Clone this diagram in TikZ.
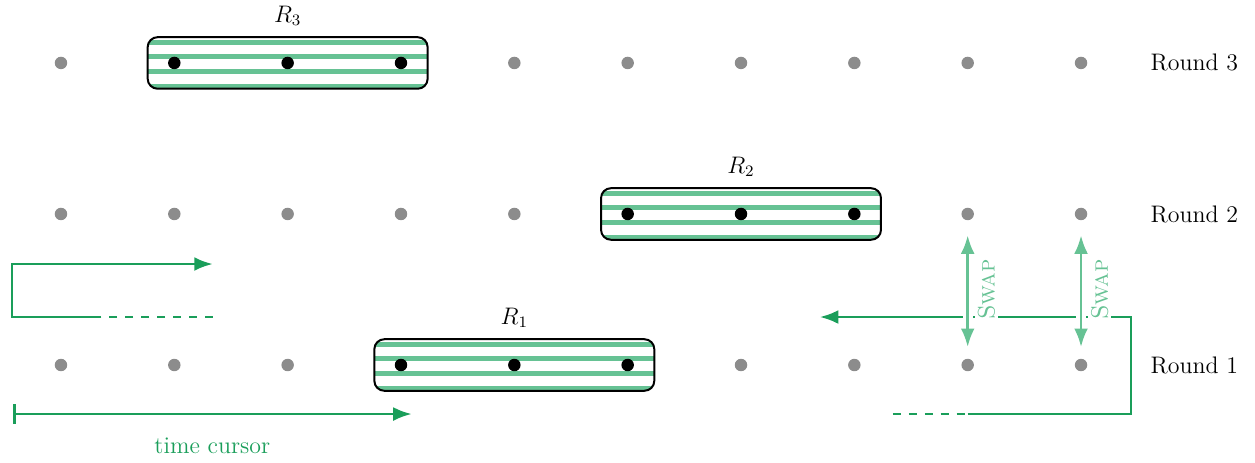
\documentclass[12pt,tikz,border=0pt]{standalone}
\usepackage{tikz}
\usetikzlibrary{arrows.meta}
\definecolor{cursorgreen}{RGB}{26,158,90}
\definecolor{swapgreen}{RGB}{102,194,148}
\definecolor{dotgray}{RGB}{140,140,140}

\begin{document}
\begin{tikzpicture}[
  dot/.style={circle,fill=dotgray,inner sep=0pt,minimum size=0.22cm},
  busy/.style={circle,fill=black,inner sep=0pt,minimum size=0.22cm},
  stripe/.style={swapgreen,line width=2.5pt},
  roundbox/.style={draw,line width=1pt,rounded corners=5pt,minimum width=4.94cm,minimum height=0.91cm,
    path picture={
      \draw[stripe] ([yshift=0.36cm]path picture bounding box.west) -- ([yshift=0.36cm]path picture bounding box.east);
      \draw[stripe] ([yshift=0.118cm]path picture bounding box.west) -- ([yshift=0.118cm]path picture bounding box.east);
      \draw[stripe] ([yshift=-0.147cm]path picture bounding box.west) -- ([yshift=-0.147cm]path picture bounding box.east);
      \draw[stripe] ([yshift=-0.42cm]path picture bounding box.west) -- ([yshift=-0.42cm]path picture bounding box.east);
    }},
  cursor/.style={cursorgreen,line width=1.4pt},
  cursordash/.style={cursorgreen,line width=1.4pt,dash pattern=on 4pt off 4pt},
  swaparrow/.style={swapgreen,line width=1.4pt,{Latex}-{Latex},shorten <=0.2cm,shorten >=0.26cm},
  halo/.style={white,line width=5pt,shorten <=0.4cm,shorten >=0.45cm},
  swaplabel/.style={rotate=90,anchor=north,fill=white,inner sep=1.5pt,outer sep=3.5pt,text=swapgreen,font=\scshape}
]
  \useasboundingbox (-1.076,-1.712) rectangle (21.07,6.441);
  % reservations
  \node[roundbox,label={[label distance=1pt]above:$R_3$}] (R3) at (4,5.33) {};
  \node[roundbox,label={[label distance=1pt]above:$R_2$}] (R2) at (12,2.665) {};
  \node[roundbox,label={[label distance=1pt]above:$R_1$}] (R1) at (8,0) {};
  % round 3
  \node[dot] (C1) at (0,5.33) {};
  \node[busy] (C2) at (2,5.33) {};
  \node[busy] (C3) at (4,5.33) {};
  \node[busy] (C4) at (6,5.33) {};
  \node[dot] (C5) at (8,5.33) {};
  \node[dot] (C6) at (10,5.33) {};
  \node[dot] (C7) at (12,5.33) {};
  \node[dot] (C8) at (14,5.33) {};
  \node[dot] (C9) at (16,5.33) {};
  \node[dot] (C10) at (18,5.33) {};
  % round 2
  \node[dot] (B1) at (0,2.665) {};
  \node[dot] (B2) at (2,2.665) {};
  \node[dot] (B3) at (4,2.665) {};
  \node[dot] (B4) at (6,2.665) {};
  \node[dot] (B5) at (8,2.665) {};
  \node[busy] (B6) at (10,2.665) {};
  \node[busy] (B7) at (12,2.665) {};
  \node[busy] (B8) at (14,2.665) {};
  \node[dot] (B9) at (16,2.665) {};
  \node[dot] (B10) at (18,2.665) {};
  % round 1
  \node[dot] (A1) at (0,0) {};
  \node[dot] (A2) at (2,0) {};
  \node[dot] (A3) at (4,0) {};
  \node[busy] (A4) at (6,0) {};
  \node[busy] (A5) at (8,0) {};
  \node[busy] (A6) at (10,0) {};
  \node[dot] (A7) at (12,0) {};
  \node[dot] (A8) at (14,0) {};
  \node[dot] (A9) at (16,0) {};
  \node[dot] (A10) at (18,0) {};
  \node (L3) at (20,5.33) {Round 3};
  \node (L2) at (20,2.665) {Round 2};
  \node (L1) at (20,0) {Round 1};
  % time cursor
  \coordinate (t1) at (-0.847,-0.865);
  \coordinate (t2) at (6.19,-0.865);
  \draw[cursor,{Bar[width=3.4mm]}-{Latex}] (t1) -- node[below=7.5pt,text=cursorgreen] (T) {time cursor} (t2);
  % wrap around on the left
  \coordinate (u1) at (2.68,0.847);
  \coordinate (u2) at (0.688,0.847);
  \coordinate (u3) at (-0.865,0.847);
  \coordinate (u4) at (-0.865,1.782);
  \coordinate (u5) at (2.68,1.782);
  \draw[cursordash] (u1) -- (u3);
  \draw[cursor,-{Latex}] (u2) -- (u3) -- (u4) -- (u5);
  % wrap around on the right
  \coordinate (w1) at (14.68,-0.865);
  \coordinate (w2) at (16,-0.865);
  \coordinate (w3) at (18.88,-0.865);
  \coordinate (w4) at (18.88,0.847);
  \coordinate (w5) at (13.39,0.847);
  \draw[cursordash] (w1) -- (w2);
  \draw[cursor,-{Latex}] (w2) -- (w3) -- (w4) -- (w5);
  % swaps
  \draw[halo] (A9) -- (B9);
  \draw[halo] (A10) -- (B10);
  \draw[swaparrow] (A9) -- node[swaplabel] (S1) {Swap} (B9);
  \draw[swaparrow] (A10) -- node[swaplabel] (S2) {Swap} (B10);
\end{tikzpicture}
\end{document}
